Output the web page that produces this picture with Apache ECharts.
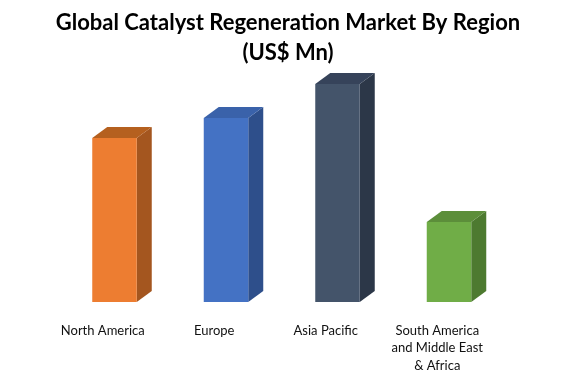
<!DOCTYPE html>
<html><head><meta charset="utf-8">
<script src="https://cdn.jsdelivr.net/npm/echarts@6/dist/echarts.min.js"></script>
<style>html,body{margin:0;padding:0;background:#fff}#c{width:576px;height:384px}</style>
</head><body><div id="c"></div>
<script>
const categories = ['North America', 'Europe', 'Asia Pacific', 'South America\nand Middle East\n& Africa'];
const values = [164, 184, 218, 80];
const frontColors = ['#ED7D31', '#4472C4', '#44546A', '#70AD47'];
const sideColors = ['#A4561F', '#2E4F8B', '#2C3748', '#4D7A30'];
const topColors = ['#B5601F', '#3A62AA', '#36435A', '#5C8E3A'];

const chart = echarts.init(document.getElementById('c'));
chart.setOption({
  backgroundColor: '#fff',
  animation: false,
  title: {
    text: 'Global Catalyst Regeneration Market By Region\n(US$ Mn)',
    left: 'center', top: 3,
    textStyle: { fontFamily: 'Lato', fontWeight: 'bold', fontSize: 22, lineHeight: 30, color: '#000' }
  },
  grid: { left: 47, right: 83, top: 62, bottom: 82 },
  xAxis: {
    type: 'category', data: categories,
    axisLine: { show: false }, axisTick: { show: false },
    axisLabel: { margin: 20, fontFamily: 'Lato', fontSize: 13, lineHeight: 17.5, color: '#111', interval: 0 }
  },
  yAxis: { type: 'value', min: 0, max: 240, show: false, splitLine: { show: false } },
  series: [{
    type: 'custom',
    data: values.map((v, i) => [i, v]),
    renderItem: function (params, api) {
      const i = api.value(0);
      const top = api.coord([i, api.value(1)]);
      const base = api.coord([i, 0]);
      const c = top[0];
      const l = c - 10.5, r = c + 34, dx = 15, dy = 11;
      const t = top[1], b = base[1];
      return {
        type: 'group',
        children: [
          { type: 'polygon', shape: { points: [[r, t], [r + dx, t - dy], [r + dx, b - dy], [r, b]] }, style: { fill: sideColors[i] } },
          { type: 'polygon', shape: { points: [[l, t], [l + dx, t - dy], [r + dx, t - dy], [r, t]] }, style: { fill: topColors[i] } },
          { type: 'rect', shape: { x: l, y: t, width: r - l, height: b - t }, style: { fill: frontColors[i] } }
        ]
      };
    }
  }]
});
</script></body></html>
